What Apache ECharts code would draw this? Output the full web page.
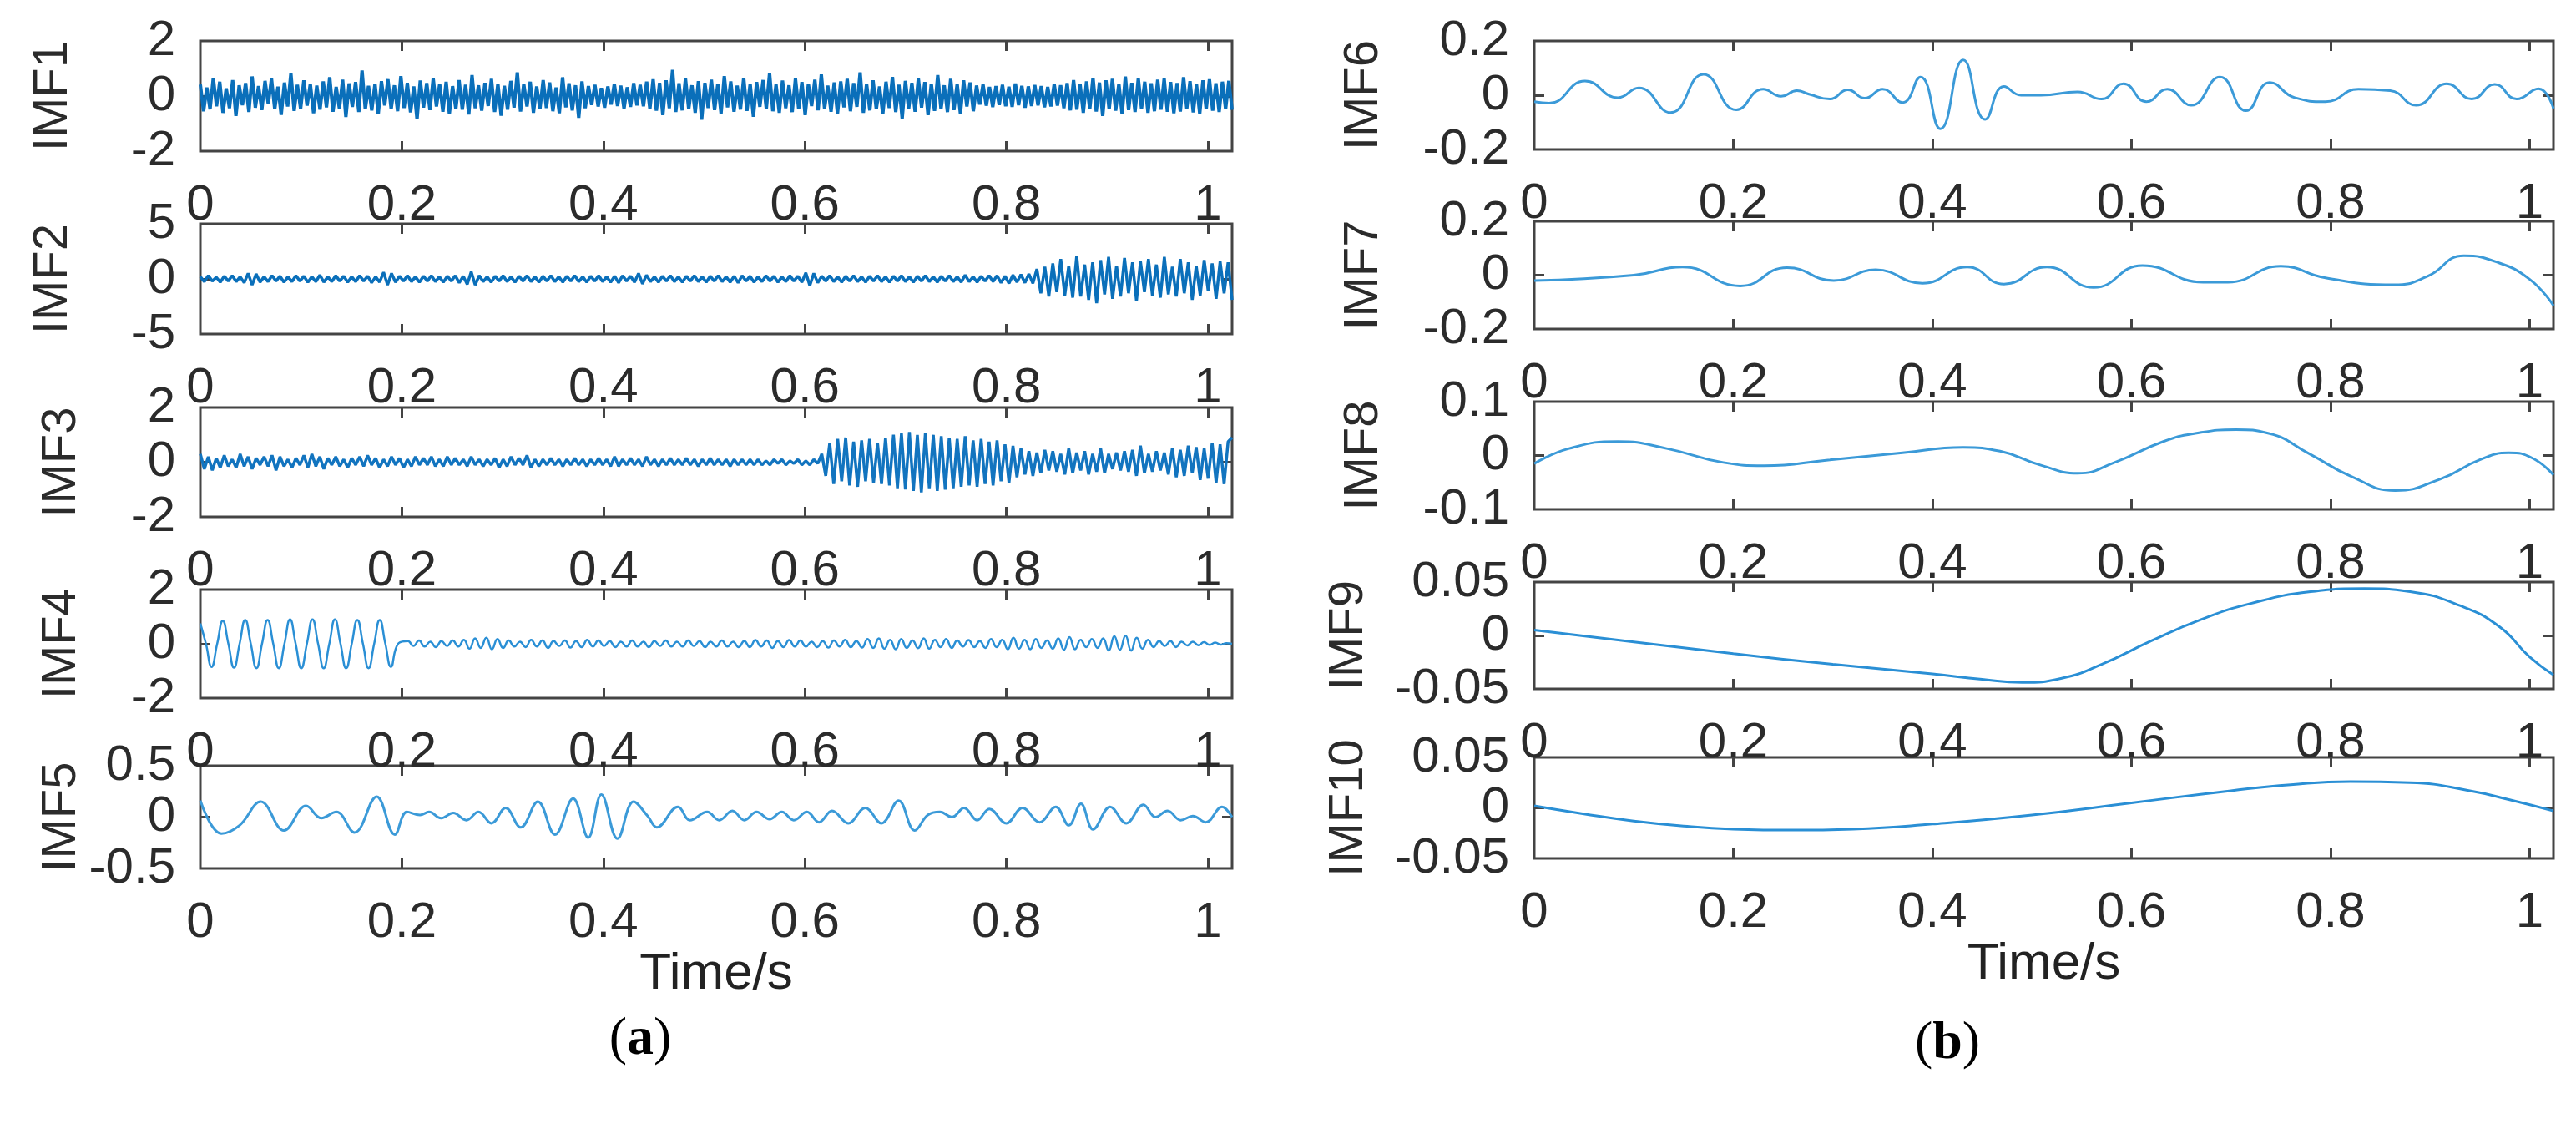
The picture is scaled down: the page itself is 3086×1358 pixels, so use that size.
<!DOCTYPE html>
<html>
<head>
<meta charset="utf-8">
<script src="https://cdn.jsdelivr.net/npm/echarts@6/dist/echarts.min.js"></script>
<style>
  html, body { margin: 0; padding: 0; background: #fff; }
  #chart { width: 3086px; height: 1358px; }
</style>
</head>
<body>
<div id="chart"></div>
<script>
// time axis
const T_END = 1.024
const timeTicks = [0, 0.2, 0.4, 0.6, 0.8, 1]
const imfNames = ['IMF1', 'IMF2', 'IMF3', 'IMF4', 'IMF5', 'IMF6', 'IMF7', 'IMF8', 'IMF9', 'IMF10']
const yLimits = [[-2, 2], [-5, 5], [-2, 2], [-2, 2], [-0.5, 0.5], [-0.2, 0.2], [-0.2, 0.2], [-0.1, 0.1], [-0.05, 0.05], [-0.05, 0.05]]

const imf1 = [
  .42,-.55,.31,-.48,.66,-.37,.52,-.61,.28,-.44,.58,-.72,.39,-.33,.47,-.58,.71,-.42,.36,-.51,
  .55,-.29,.63,-.47,.34,-.68,.49,-.38,.82,-.54,.41,-.46,.57,-.35,.44,-.62,.38,-.49,.53,-.41,
  .68,-.57,.33,-.45,.59,-.76,.46,-.39,.51,-.58,.93,-.48,.37,-.52,.45,-.66,.54,-.34,.61,-.47,
  .39,-.55,.72,-.43,.48,-.59,.35,-.84,.56,-.42,.47,-.51,.64,-.38,.43,-.57,.52,-.63,.36,-.46,
  .58,-.49,.41,-.67,.76,-.44,.39,-.53,.48,-.36,.62,-.58,.45,-.71,.37,-.49,.55,-.42,.86,-.56,
  .44,-.38,.52,-.61,.35,-.47,.58,-.43,.49,-.55,.31,-.62,.68,-.41,.46,-.52,.39,-.79,.53,-.44,
  .36,-.32,.41,-.38,.29,-.42,.35,-.31,.44,-.36,.38,-.45,.32,-.39,.47,-.34,.41,-.37,.52,-.46,
  .61,-.53,.48,-.69,.57,-.44,.95,-.58,.46,-.52,.63,-.47,.39,-.61,.54,-.86,.48,-.43,.59,-.51,
  .45,-.63,.72,-.41,.53,-.57,.38,-.49,.66,-.54,.44,-.75,.51,-.39,.58,-.46,.83,-.55,.42,-.61,
  .56,-.44,.39,-.58,.64,-.47,.51,-.69,.43,-.36,.59,-.52,.78,-.45,.38,-.57,.49,-.64,.53,-.41,
  .62,-.55,.47,-.39,.86,-.61,.44,-.52,.57,-.48,.35,-.66,.52,-.43,.69,-.58,.41,-.81,.55,-.46,
  .48,-.57,.63,-.42,.51,-.69,.45,-.54,.76,-.47,.39,-.58,.62,-.51,.44,-.63,.57,-.38,.49,-.55,
  .38,-.31,.42,-.35,.33,-.4,.36,-.32,.41,-.37,.34,-.39,.45,-.33,.37,-.42,.35,-.36,.4,-.34,
  .36,-.41,.33,-.38,.43,-.35,.39,-.44,.47,-.52,.58,-.49,.44,-.61,.53,-.47,.66,-.56,.49,-.72,
  .57,-.48,.62,-.53,.45,-.66,.71,-.51,.48,-.58,.64,-.45,.52,-.61,.46,-.55,.59,-.49,.63,-.57,
  .51,-.62,.47,-.56,.68,-.45,.54,-.59,.42,-.64,.57,-.48,.61,-.53,.46,-.58,.52,-.47,.55,-.5
]
const imf2 = [
  .2,-.25,.3,-.2,.15,-.3,.25,-.2,.3,-.25,.2,-.35,.5,-.55,.45,-.3,.2,-.25,.3,-.2,
  .25,-.3,.2,-.25,.3,-.2,.25,-.3,.2,-.25,.35,-.3,.2,-.25,.3,-.2,.25,-.3,.2,-.25,
  .3,-.2,.25,-.35,.2,-.3,.6,-.55,.5,-.3,.25,-.2,.3,-.25,.2,-.3,.25,-.2,.3,-.25,
  .2,-.3,.25,-.2,.3,-.35,.25,-.5,.65,-.55,.3,-.25,.2,-.3,.25,-.2,.3,-.25,.2,-.3,
  .25,-.2,.3,-.25,.2,-.3,.25,-.2,.3,-.25,.2,-.3,.25,-.2,.3,-.25,.2,-.3,.25,-.2,
  .3,-.25,.2,-.3,.25,-.35,.3,-.2,.25,-.3,.5,-.45,.35,-.25,.2,-.3,.25,-.2,.3,-.25,
  .2,-.3,.25,-.2,.3,-.25,.2,-.3,.25,-.2,.3,-.25,.2,-.3,.25,-.35,.3,-.2,.25,-.3,
  .2,-.25,.3,-.2,.25,-.3,.2,-.25,.3,-.2,.25,-.3,.55,-.6,.5,-.35,.25,-.2,.3,-.25,
  .2,-.3,.25,-.2,.3,-.25,.2,-.3,.25,-.2,.3,-.25,.2,-.3,.25,-.2,.3,-.25,.2,-.3,
  .25,-.2,.3,-.25,.2,-.3,.25,-.2,.3,-.25,.2,-.3,.35,-.25,.2,-.3,.25,-.2,.3,-.25,
  .3,-.35,.25,-.4,.35,-.3,.4,-.35,.45,-.4,.9,-1.3,1.1,-1.6,1.4,-1.2,1.8,-1.5,1.2,-1.7,
  2.1,-1.6,1.3,-1.9,1.5,-2.2,1.7,-1.4,2.0,-1.8,1.2,-1.6,1.9,-1.3,1.5,-2.0,1.6,-1.2,1.8,-1.5,
  1.3,-1.7,2.0,-1.4,1.1,-1.6,1.8,-1.3,1.5,-1.9,1.2,-1.5,1.7,-1.1,1.4,-1.8,1.6,-1.3,1.5,-1.9
]
const imf3 = [
  .3,-.25,.2,-.3,.15,-.2,.25,-.15,.1,-.2,.3,-.15,.2,-.25,.15,-.1,.2,-.15,.25,-.3,
  .2,-.15,.1,-.2,.15,-.1,.25,-.2,.3,-.15,.2,-.25,.15,-.1,.2,-.15,.1,-.2,.15,-.1,
  .2,-.15,.25,-.1,.15,-.2,.1,-.15,.2,-.1,.15,-.2,.1,-.15,.2,-.1,.15,-.1,.2,-.15,
  .1,-.15,.2,-.1,.15,-.1,.1,-.15,.2,-.1,.1,-.15,.1,-.1,.15,-.2,.1,-.15,.2,-.1,
  .15,-.1,.25,-.2,.1,-.15,.1,-.1,.15,-.1,.1,-.15,.1,-.1,.15,-.1,.1,-.15,.1,-.1,
  .15,-.1,.1,-.15,.2,-.15,.1,-.1,.15,-.1,.1,-.15,.2,-.1,.1,-.15,.1,-.1,.15,-.1,
  .1,-.1,.15,-.1,.1,-.15,.1,-.1,.15,-.1,.1,-.1,.1,-.15,.1,-.1,.1,-.1,.1,-.1,
  .1,-.1,.05,-.1,.1,-.05,.1,-.1,.05,-.05,.1,-.1,.05,-.1,.1,-.05,.3,-.5,.7,-.8,
  .85,-.7,.9,-.85,.75,-.9,.8,-.7,.85,-.75,.7,-.8,.9,-.85,1.0,-.95,1.05,-1.0,1.1,-1.05,
  1.0,-1.1,1.05,-.95,1.0,-1.05,.95,-1.0,.9,-.95,.85,-.9,.95,-.85,.8,-.9,.85,-.8,.75,-.85,
  .8,-.7,.65,-.75,.6,-.55,.5,-.45,.4,-.5,.35,-.4,.45,-.3,.4,-.35,.3,-.45,.5,-.4,
  .35,-.3,.4,-.45,.3,-.35,.5,-.4,.3,-.25,.35,-.3,.4,-.35,.45,-.5,.6,-.4,.3,-.35,
  .4,-.3,.35,-.45,.5,-.55,.45,-.5,.6,-.4,.55,-.65,.5,-.6,.7,-.75,.65,-.8,.75,.9
]
const imf4 = [
  .75,0,-.85,0,.85,0,-.88,0,.88,0,-.9,0,.88,0,-.9,0,.9,0,-.9,0,.9,0,-.9,0,.9,0,-.9,0,.88,0,-.9,0,.88,0,-.85,-.1,.08,
  .1,-.08,.12,-.1,.08,-.12,.1,-.08,.12,-.1,.15,-.18,.2,-.15,.22,-.2,.18,-.15,.12,-.1,
  .08,-.12,.15,-.1,.12,-.15,.1,-.08,.12,-.14,.1,-.12,.15,-.1,.12,-.08,.1,-.12,.08,-.1,
  .12,-.1,.08,-.12,.1,-.08,.12,-.1,.08,-.1,.12,-.08,.1,-.12,.08,-.1,.12,-.1,.08,-.12,
  .1,-.12,.14,-.1,.12,-.15,.1,-.12,.14,-.1,.12,-.1,.08,-.12,.1,-.14,.12,-.1,.15,-.12,
  .1,-.14,.18,-.15,.2,-.18,.15,-.2,.18,-.15,.12,-.16,.2,-.18,.15,-.12,.18,-.15,.12,-.1,
  .14,-.12,.1,-.15,.18,-.12,.15,-.2,.22,-.18,.15,-.2,.18,-.15,.12,-.18,.2,-.22,.25,-.2,
  .15,-.12,.18,-.15,.2,-.25,.28,-.22,.3,-.25,.22,-.18,.15,-.12,.1,-.08,.1,-.12,.08,-.06,
  .08,-.05,.06,-.04,.05,-.03,.02,0
]

// IMF5..IMF10: traced turning points (time, value)
const imf5Time = [0,.021,.039,.06,.083,.105,.12,.135,.153,.175,.193,.205,.218,.227,.239,.251,.264,.276,.289,.303,.318,.335,.352,.37,.385,.398,.414,.43,.444,.453,.474,.486,.503,.515,.528,.54,.552,.565,.577,.589,.602,.614,.627,.643,.66,.676,.693,.709,.722,.734,.746,.758,.771,.783,.8,.816,.833,.849,.862,.874,.886,.903,.919,.936,.948,.96,.973,.985,.998,1.014,1.024]
const imf5 = [.16,-.16,-.08,.15,-.13,.11,-.01,.05,-.15,.2,-.17,.05,.02,.05,-.01,.04,-.03,.05,-.06,.09,-.1,.15,-.17,.18,-.2,.22,-.21,.15,.01,-.1,.1,-.03,.05,-.03,.06,-.03,.05,-.02,.05,-.03,.05,-.05,.06,-.06,.09,-.06,.16,-.13,.02,.05,0,.09,-.03,.08,-.06,.09,-.05,.1,-.08,.13,-.12,.1,-.06,.12,0,.06,-.03,.01,-.05,.1,0]
const imf6Time = [0,.015,.051,.084,.105,.137,.17,.203,.23,.248,.264,.276,.297,.315,.332,.35,.37,.388,.408,.431,.453,.472,.489,.509,.546,.57,.592,.615,.636,.66,.689,.715,.739,.764,.795,.828,.86,.886,.917,.942,.965,.987,1.009,1.024]
const imf6 = [-.024,-.029,.052,-.009,.027,-.064,.077,-.054,.022,-.004,.017,.004,-.014,.02,-.011,.022,-.027,.067,-.124,.13,-.089,.032,0,0,.012,-.014,.042,-.024,.022,-.037,.067,-.057,.047,-.009,-.024,.022,.017,-.037,.042,-.014,.04,-.014,.024,-.049]
const imf7Time = [0,.1,.149,.207,.254,.301,.343,.39,.435,.472,.515,.562,.611,.672,.697,.75,.795,.864,.897,.934,.966,1.0,1.024]
const imf7 = [-.02,0,.03,-.04,.028,-.02,.02,-.03,.03,-.033,.03,-.046,.036,-.026,-.026,.033,-.01,-.036,-.005,.072,.05,-.015,-.113]
const imf8Time = [0,.035,.084,.133,.19,.231,.297,.37,.431,.468,.509,.546,.583,.632,.664,.705,.738,.779,.82,.865,.91,.95,.979,1.003,1.024]
const imf8 = [-.015,.013,.026,.013,-.013,-.019,-.008,.005,.015,.008,-.018,-.033,-.013,.026,.041,.048,.041,.003,-.038,-.065,-.044,-.008,.005,-.005,-.036]
const imf9Time = [0,.1,.2,.3,.4,.45,.49,.53,.57,.62,.67,.72,.78,.834,.88,.93,.97,1.0,1.024]
const imf9 = [.005,-.006,-.017,-.027,-.036,-.041,-.044,-.04,-.027,-.005,.015,.03,.041,.044,.041,.028,.008,-.02,-.037]
const imf10Time = [0,.05,.1,.15,.2,.26,.32,.4,.5,.6,.7,.76,.82,.88,.94,.98,1.024]
const imf10 = [.002,-.006,-.013,-.018,-.021,-.022,-.021,-.016,-.007,.005,.017,.023,.026,.025,.017,.008,-.003]

const FONT = '"Liberation Sans", Arial, sans-serif'
const TEXT = '#2b2b2b'
const FRAME = '#444'

// subplot boxes in px, left column then right column
const boxes = [
  { left: 240, top: 49, width: 1236, height: 132 },
  { left: 240, top: 268, width: 1236, height: 132 },
  { left: 240, top: 488, width: 1236, height: 131 },
  { left: 240, top: 706, width: 1236, height: 130 },
  { left: 240, top: 917, width: 1236, height: 123 },
  { left: 1838, top: 49, width: 1221, height: 130 },
  { left: 1838, top: 265, width: 1221, height: 129 },
  { left: 1838, top: 481, width: 1221, height: 129 },
  { left: 1838, top: 697, width: 1221, height: 128 },
  { left: 1838, top: 907, width: 1221, height: 121 }
]
const nameGaps = [147, 147, 137, 137, 135, 175, 175, 175, 193, 193]

function evenly(values) {
  const step = T_END / (values.length - 1)
  return values.map((v, i) => [i * step, v])
}
function paired(times, values) {
  return times.map((t, i) => [t, values[i]])
}

const traces = [
  { data: evenly(imf1), color: '#0a6fba', width: 4, smooth: false },
  { data: evenly(imf2), color: '#0a6fba', width: 3.5, smooth: false },
  { data: evenly(imf3), color: '#1274bf', width: 3.5, smooth: false },
  { data: evenly(imf4), color: '#2a8fd5', width: 2.5, smooth: 0.5 },
  { data: paired(imf5Time, imf5), color: '#3b9ad8', width: 3, smooth: 0.4 },
  { data: paired(imf6Time, imf6), color: '#3b9ad8', width: 3, smooth: 0.5 },
  { data: paired(imf7Time, imf7), color: '#3b9ad8', width: 3, smooth: 0.5 },
  { data: paired(imf8Time, imf8), color: '#3b9ad8', width: 3, smooth: 0.5 },
  { data: paired(imf9Time, imf9), color: '#2a8fd5', width: 3, smooth: 0.5 },
  { data: paired(imf10Time, imf10), color: '#2a8fd5', width: 3, smooth: 0.5 }
]

const grid = [], xAxis = [], yAxis = [], series = []
const tickStyle = { color: FRAME, width: 3 }
const hiddenLine = { show: false, onZero: false }

boxes.forEach((b, i) => {
  const [lo, hi] = yLimits[i]
  const isBottom = i === 4 || i === 9
  grid.push({ left: b.left, top: b.top, width: b.width, height: b.height,
    show: true, borderColor: FRAME, borderWidth: 3, backgroundColor: 'transparent' })
  xAxis.push({
    type: 'value', gridIndex: i, min: 0, max: T_END, interval: 0.2, position: 'bottom',
    axisLine: hiddenLine, splitLine: { show: false },
    axisTick: { inside: true, length: 12, customValues: [0.2, 0.4, 0.6, 0.8, 1], lineStyle: tickStyle },
    axisLabel: { customValues: timeTicks, margin: 35, fontSize: 60, color: TEXT, fontFamily: FONT },
    name: isBottom ? 'Time/s' : '', nameLocation: 'middle', nameGap: i === 4 ? 80 : 93,
    nameTextStyle: { fontSize: 62, color: '#222', fontFamily: FONT }
  })
  xAxis.push({
    type: 'value', gridIndex: i, min: 0, max: T_END, interval: 0.2, position: 'top',
    axisLine: hiddenLine, splitLine: { show: false }, axisLabel: { show: false },
    axisTick: { inside: true, length: 12, customValues: [0.2, 0.4, 0.6, 0.8, 1], lineStyle: tickStyle }
  })
  yAxis.push({
    type: 'value', gridIndex: i, min: lo, max: hi, interval: hi, position: 'left',
    axisLine: hiddenLine, splitLine: { show: false },
    axisTick: { inside: true, length: 12, customValues: [0], lineStyle: tickStyle },
    axisLabel: { customValues: [lo, 0, hi], margin: 30, fontSize: 60, color: TEXT, fontFamily: FONT },
    name: imfNames[i], nameLocation: 'middle', nameRotate: 90, nameGap: nameGaps[i],
    nameTextStyle: { fontSize: 58, color: TEXT, fontFamily: FONT }
  })
  yAxis.push({
    type: 'value', gridIndex: i, min: lo, max: hi, interval: hi, position: 'right',
    axisLine: hiddenLine, splitLine: { show: false }, axisLabel: { show: false },
    axisTick: { inside: true, length: 12, customValues: [0], lineStyle: tickStyle }
  })
  const tr = traces[i]
  series.push({
    type: 'line', xAxisIndex: 2 * i, yAxisIndex: 2 * i, data: tr.data,
    symbol: 'none', smooth: tr.smooth, clip: true,
    lineStyle: { color: tr.color, width: tr.width }
  })
})

const serif = '"Liberation Serif", "DejaVu Serif", serif'
const panelTag = (x, y, letter) => ({
  type: 'text', x: x, y: y,
  style: {
    text: '{p|(}{b|' + letter + '}{p|)}',
    align: 'center', verticalAlign: 'middle',
    rich: {
      p: { fontSize: 64, fontFamily: serif, fill: '#000' },
      b: { fontSize: 64, fontWeight: 'bold', fontFamily: serif, fill: '#000' }
    }
  }
})

const chart = echarts.init(document.getElementById('chart'))
chart.setOption({
  animation: false,
  backgroundColor: '#fff',
  grid, xAxis, yAxis, series,
  graphic: [panelTag(767, 1245, 'a'), panelTag(2333, 1250, 'b')]
})
</script>
</body>
</html>
